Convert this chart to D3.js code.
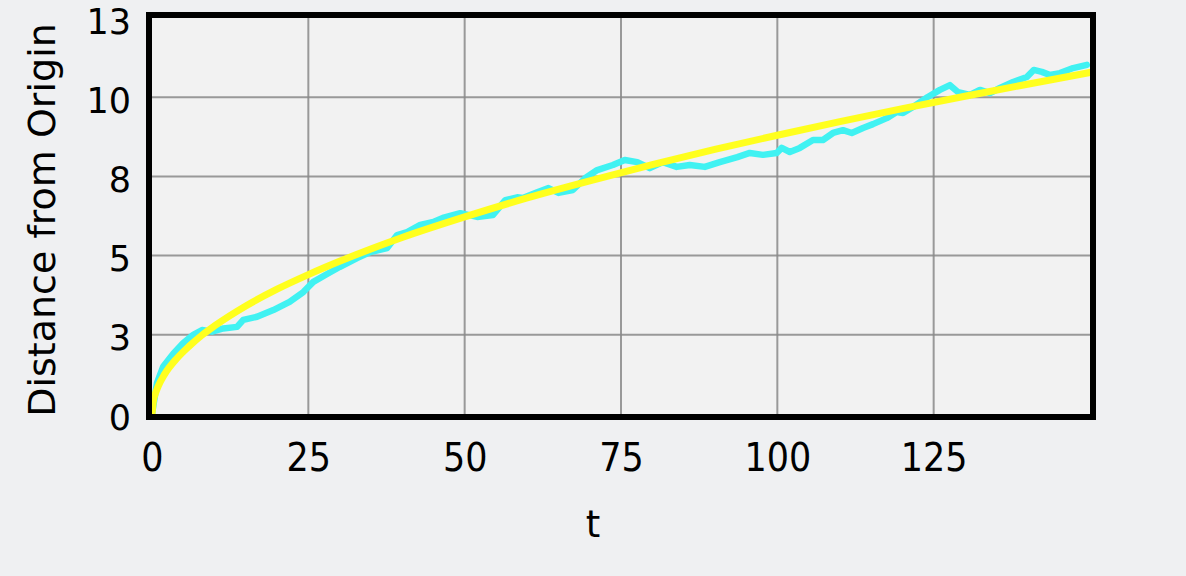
<!DOCTYPE html>
<html>
<head>
<meta charset="utf-8">
<script src="https://cdn.jsdelivr.net/npm/d3@7"></script>
<style>
  html, body { margin: 0; padding: 0; background: #eff0f2; }
  svg { display: block; }
  text { font-family: "DejaVu Sans", Verdana, sans-serif; fill: #000; }
</style>
</head>
<body>
<svg id="chart" width="1186" height="576"></svg>
<script>
// ---- data ----
const walkT = [0,0.8,1.8,3.4,5,6.6,8,9.6,11.4,13.6,14.6,16.8,19.4,22,24.2,25.8,28,30,32.8,34.9,37.6,39.2,40.8,42.9,45,46.5,49.3,52,54.5,56.5,58.4,59.3,61.6,63.4,65,67.3,69.3,71.2,73.7,75.6,77.6,79.6,81.7,83.9,86,88.4,90.8,93.6,95.6,97.7,99.9,100.7,102,103.6,105.7,107.3,108.9,110.5,111.9,113.7,115.3,117.5,119.1,120.1,121.7,124,126,127.6,128.9,130.8,132.4,134,135.6,137.7,139.9,141,142.3,143.6,145.2,147.3,149.5];
const walkDist = [0,0.98,1.5,1.9,2.24,2.5,2.65,2.6,2.7,2.75,2.97,3.07,3.28,3.54,3.85,4.17,4.42,4.64,4.92,5.11,5.24,5.65,5.74,5.97,6.06,6.19,6.34,6.22,6.28,6.75,6.84,6.82,7.0,7.13,6.98,7.07,7.45,7.7,7.86,8.02,7.95,7.76,7.95,7.8,7.86,7.8,7.95,8.11,8.24,8.18,8.24,8.4,8.27,8.4,8.65,8.65,8.87,8.96,8.87,9.03,9.15,9.34,9.53,9.5,9.69,10.0,10.23,10.38,10.16,10.07,10.23,10.13,10.29,10.48,10.64,10.86,10.8,10.7,10.76,10.92,11.02];
const fitT = [0,0.25,0.5,1,2,4,6,8,10,15,20,25,30,40,50,60,70,80,90,100,110,120,130,140,150];
const fitDist = [0,0.44,0.62,0.88,1.25,1.76,2.15,2.49,2.78,3.41,3.94,4.4,4.82,5.57,6.22,6.82,7.36,7.87,8.35,8.8,9.23,9.64,10.03,10.41,10.78];
const xTickValues = [0,25,50,75,100,125];
const xTickLabels = ["0","25","50","75","100","125"];
const yTickValues = [0,2.5,5,7.5,10,12.5];
const yTickLabels = ["0","3","5","8","10","13"];
const xTitle = "t";
const yTitle = "Distance from Origin";

// ---- layout ----
const svg = d3.select("#chart");
const L = 152, R = 1090, T = 18, B = 414;
const x = d3.scaleLinear().domain([0,150]).range([L,R]);
const y = d3.scaleLinear().domain([0,12.5]).range([B,T]);

svg.append("rect").attr("x",L).attr("y",T).attr("width",R-L).attr("height",B-T).attr("fill","#f2f2f2");

// grid
const grid = svg.append("g");
grid.selectAll("line.vx").data(xTickValues.slice(1)).join("line")
  .attr("x1",d=>x(d)).attr("x2",d=>x(d)).attr("y1",T).attr("y2",B)
  .attr("stroke","#8a8a8a").attr("stroke-width",2).attr("opacity",0.85);
grid.selectAll("line.hy").data(yTickValues.slice(1,5)).join("line")
  .attr("x1",L).attr("x2",R).attr("y1",d=>y(d)).attr("y2",d=>y(d))
  .attr("stroke","#8a8a8a").attr("stroke-width",2).attr("opacity",0.85);

// clip
svg.append("clipPath").attr("id","clip").append("rect")
  .attr("x",L-2).attr("y",T-2).attr("width",R-L+4).attr("height",B-T+4);

const walk = walkT.map((t,i)=>[t,walkDist[i]]);
const fit = fitT.map((t,i)=>[t,fitDist[i]]);

const lineLin = d3.line().x(d=>x(d[0])).y(d=>y(d[1])).curve(d3.curveLinear);
const lineSmooth = d3.line().x(d=>x(d[0])).y(d=>y(d[1])).curve(d3.curveMonotoneX);

const plot = svg.append("g").attr("clip-path","url(#clip)");
plot.append("path").datum(walk).attr("d",lineLin)
  .attr("fill","none").attr("stroke","#40f2f2").attr("stroke-width",6.5)
  .attr("stroke-linejoin","round").attr("stroke-linecap","round");
plot.append("path").datum(fit).attr("d",lineSmooth)
  .attr("fill","none").attr("stroke","#ffff1e").attr("stroke-width",7)
  .attr("stroke-linejoin","round").attr("stroke-linecap","round");

// frame
svg.append("rect").attr("x",L-3).attr("y",T-3).attr("width",R-L+6).attr("height",B-T+6)
  .attr("fill","none").attr("stroke","#000").attr("stroke-width",6);

// axes
const xAxis = d3.axisBottom(x).tickValues(xTickValues).tickSize(0)
  .tickFormat((d,i)=>xTickLabels[i]);
const gx = svg.append("g").attr("transform",`translate(0,${B+26})`).call(xAxis);
gx.select(".domain").remove();
gx.selectAll("text").attr("font-size",35).attr("font-family","DejaVu Sans, Verdana, sans-serif")
  .attr("fill","#000").attr("transform","scale(1,1.12)");

const yAxis = d3.axisLeft(y).tickValues(yTickValues).tickSize(0)
  .tickFormat((d,i)=>yTickLabels[i]);
const gy = svg.append("g").attr("transform",`translate(${L-18},0)`).call(yAxis);
gy.select(".domain").remove();
gy.selectAll("text").attr("font-size",35).attr("font-family","DejaVu Sans, Verdana, sans-serif")
  .attr("fill","#000").attr("dy","0.43em");

// titles
svg.append("text").attr("x",593).attr("y",537).attr("text-anchor","middle")
  .attr("font-size",37).text(xTitle);
svg.append("text").attr("transform","translate(55,220) rotate(-90)")
  .attr("text-anchor","middle").attr("font-size",38).text(yTitle);
</script>
</body>
</html>
